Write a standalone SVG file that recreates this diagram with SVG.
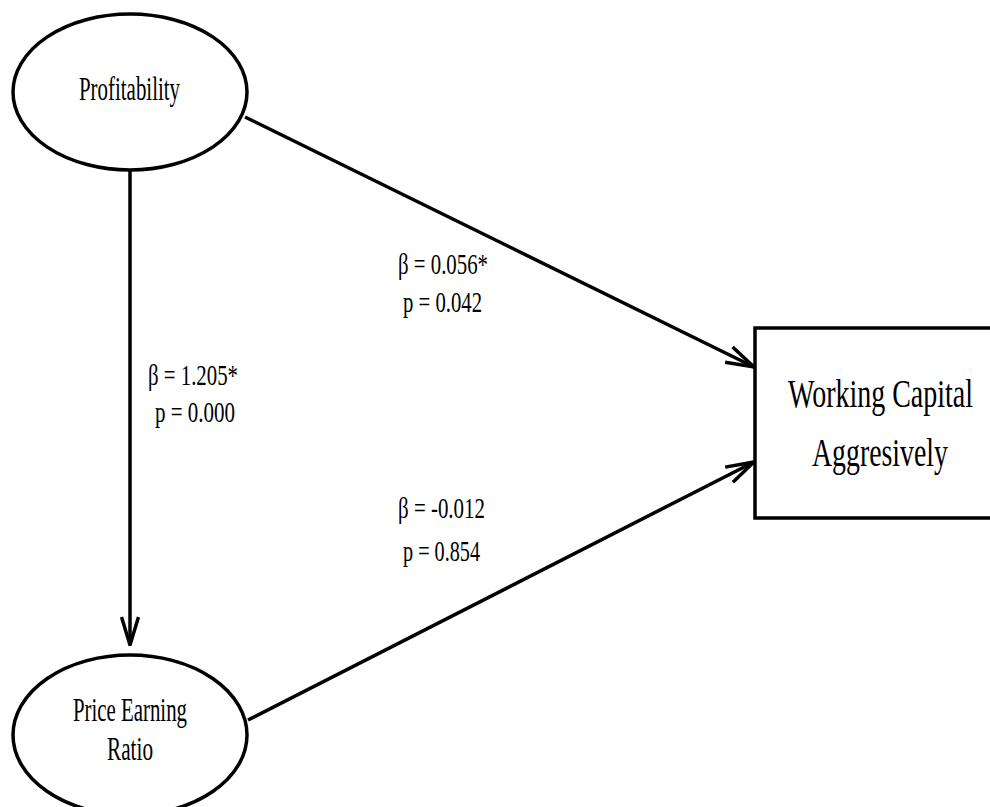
<svg xmlns="http://www.w3.org/2000/svg" width="990" height="807" viewBox="0 0 990 807">
<defs>
<style>
.node{fill:#fff;stroke:#000;stroke-width:3.5}
.lbl{font-family:"Liberation Serif","Times New Roman",serif;fill:#000}
.edge{fill:none;stroke:#000;stroke-width:3.5}
</style>
<marker id="arr" viewBox="0 0 30 20" refX="29" refY="10" markerWidth="30" markerHeight="20" markerUnits="userSpaceOnUse" orient="auto">
<path d="M1,1.5 L29,10 L1,18.5" fill="none" stroke="#000" stroke-width="3.5" stroke-linejoin="miter"/>
</marker>
</defs>
<rect width="990" height="807" fill="#fff"/>
<g id="edges">
<line class="edge" x1="130" y1="170" x2="130" y2="645" marker-end="url(#arr)"/>
<line class="edge" x1="245" y1="117" x2="754" y2="367" marker-end="url(#arr)"/>
<line class="edge" x1="248" y1="720" x2="754" y2="462" marker-end="url(#arr)"/>
<text class="lbl" x="148" y="385" font-size="30" textLength="90" lengthAdjust="spacingAndGlyphs">β = 1.205*</text>
<text class="lbl" x="155" y="422" font-size="30" textLength="80" lengthAdjust="spacingAndGlyphs">p = 0.000</text>
<text class="lbl" x="398" y="274" font-size="30" textLength="90" lengthAdjust="spacingAndGlyphs">β = 0.056*</text>
<text class="lbl" x="403" y="312" font-size="30" textLength="79" lengthAdjust="spacingAndGlyphs">p = 0.042</text>
<text class="lbl" x="398" y="518" font-size="30" textLength="87" lengthAdjust="spacingAndGlyphs">β = -0.012</text>
<text class="lbl" x="403" y="561" font-size="30" textLength="77" lengthAdjust="spacingAndGlyphs">p = 0.854</text>
</g>
<g id="profitability">
<ellipse class="node" cx="130" cy="92" rx="117" ry="78"/>
<text class="lbl" x="79" y="100" font-size="34" textLength="101" lengthAdjust="spacingAndGlyphs">Profitability</text>
</g>
<g id="per">
<ellipse class="node" cx="130" cy="735" rx="117" ry="80"/>
<text class="lbl" x="73" y="721" font-size="34" textLength="114" lengthAdjust="spacingAndGlyphs">Price Earning</text>
<text class="lbl" x="107" y="760" font-size="34" textLength="46" lengthAdjust="spacingAndGlyphs">Ratio</text>
</g>
<g id="wca">
<rect class="node" x="755" y="328" width="240" height="190" stroke-width="4"/>
<text class="lbl" x="788" y="407" font-size="41" textLength="185" lengthAdjust="spacingAndGlyphs">Working Capital</text>
<text class="lbl" x="812" y="466" font-size="41" textLength="136" lengthAdjust="spacingAndGlyphs">Aggresively</text>
</g>
</svg>
